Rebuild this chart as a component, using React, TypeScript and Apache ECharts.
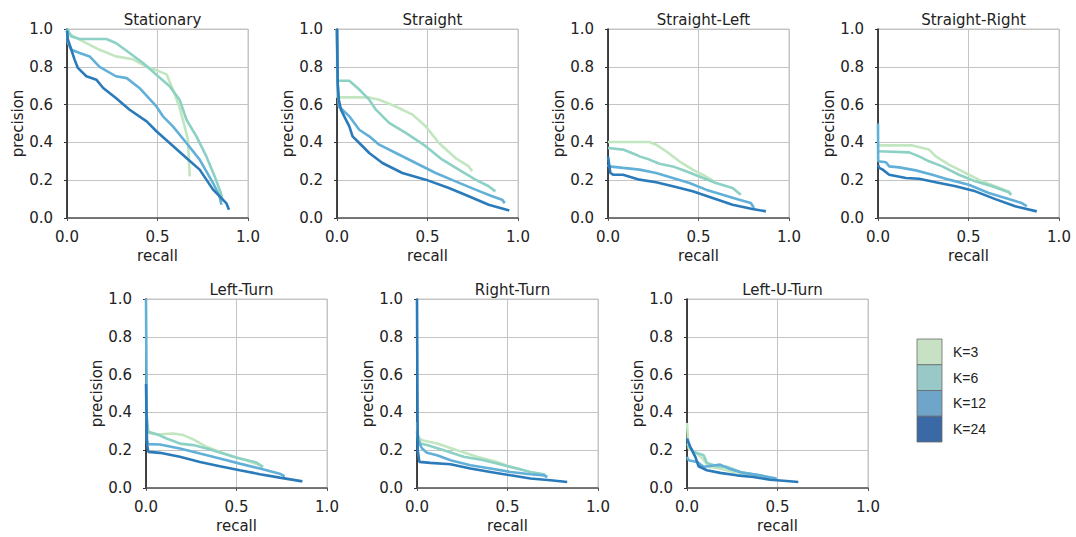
import React, { useEffect, useRef } from "react";
import * as echarts from "echarts";

// ---- Data: [recall, precision] pairs ----
const kLabels = ["K=3", "K=6", "K=12", "K=24"];
const panelTitles = ["Stationary", "Straight", "Straight-Left", "Straight-Right", "Left-Turn", "Right-Turn", "Left-U-Turn"];
const xTicks = [0, 0.5, 1];
const yTicks = [0, 0.2, 0.4, 0.6, 0.8, 1];

const stationaryK3 = [[0,1.0],[0.02,0.97],[0.088,0.935],[0.18,0.89],[0.27,0.855],[0.365,0.84],[0.44,0.80],[0.51,0.776],[0.55,0.76],[0.585,0.68],[0.62,0.59],[0.65,0.485],[0.668,0.414],[0.678,0.22]];
const stationaryK6 = [[0,1.0],[0.024,0.96],[0.07,0.947],[0.217,0.947],[0.27,0.926],[0.346,0.873],[0.42,0.82],[0.494,0.758],[0.567,0.697],[0.622,0.626],[0.66,0.52],[0.715,0.432],[0.77,0.326],[0.816,0.22],[0.853,0.123],[0.858,0.088]];
const stationaryK12 = [[0,1.0],[0.005,0.926],[0.024,0.89],[0.07,0.873],[0.125,0.855],[0.18,0.80],[0.27,0.75],[0.33,0.74],[0.40,0.688],[0.494,0.59],[0.53,0.538],[0.585,0.485],[0.66,0.397],[0.733,0.309],[0.807,0.185],[0.843,0.115],[0.853,0.07]];
const stationaryK24 = [[0,0.99],[0.005,0.944],[0.024,0.89],[0.042,0.838],[0.06,0.794],[0.107,0.75],[0.162,0.732],[0.2,0.688],[0.27,0.635],[0.346,0.573],[0.44,0.511],[0.494,0.459],[0.567,0.397],[0.66,0.317],[0.733,0.256],[0.807,0.15],[0.88,0.079],[0.895,0.044]];

const straightK3 = [[0,1.0],[0.002,0.638],[0.178,0.638],[0.233,0.626],[0.325,0.59],[0.417,0.547],[0.49,0.485],[0.563,0.397],[0.655,0.317],[0.728,0.273],[0.747,0.247]];
const straightK6 = [[0,1.0],[0.002,0.726],[0.068,0.726],[0.123,0.68],[0.178,0.626],[0.215,0.573],[0.288,0.503],[0.38,0.45],[0.49,0.38],[0.58,0.31],[0.673,0.256],[0.765,0.203],[0.838,0.168],[0.875,0.141]];
const straightK12 = [[0,1.0],[0.004,0.7],[0.01,0.59],[0.03,0.573],[0.068,0.538],[0.123,0.467],[0.178,0.432],[0.233,0.388],[0.325,0.344],[0.435,0.291],[0.545,0.238],[0.655,0.194],[0.765,0.15],[0.857,0.115],[0.912,0.097],[0.927,0.079]];
const straightK24 = [[0,1.0],[0.004,0.714],[0.01,0.626],[0.022,0.573],[0.04,0.538],[0.068,0.485],[0.086,0.432],[0.123,0.397],[0.178,0.344],[0.251,0.291],[0.361,0.238],[0.49,0.203],[0.618,0.159],[0.728,0.115],[0.838,0.07],[0.952,0.04]];

const straightLeftK3 = [[0,0.402],[0.229,0.402],[0.266,0.388],[0.321,0.353],[0.394,0.3],[0.468,0.256],[0.523,0.229],[0.587,0.194]];
const straightLeftK6 = [[0,0.37],[0.083,0.362],[0.156,0.335],[0.174,0.326],[0.229,0.309],[0.284,0.287],[0.358,0.273],[0.431,0.247],[0.505,0.22],[0.596,0.185],[0.688,0.159],[0.734,0.123]];
const straightLeftK12 = [[0,0.282],[0.005,0.273],[0.083,0.265],[0.174,0.256],[0.266,0.238],[0.358,0.212],[0.45,0.185],[0.541,0.15],[0.633,0.123],[0.725,0.097],[0.789,0.079],[0.807,0.053]];
const straightLeftK24 = [[0,0.326],[0.013,0.238],[0.028,0.229],[0.083,0.229],[0.174,0.203],[0.266,0.189],[0.358,0.168],[0.468,0.141],[0.578,0.106],[0.688,0.07],[0.798,0.048],[0.872,0.035]];

const straightRightK3 = [[0,0.384],[0.19,0.384],[0.282,0.362],[0.319,0.326],[0.392,0.282],[0.484,0.238],[0.575,0.194],[0.648,0.168],[0.722,0.141],[0.736,0.123]];
const straightRightK6 = [[0,0.353],[0.172,0.347],[0.227,0.326],[0.282,0.3],[0.355,0.273],[0.447,0.229],[0.538,0.194],[0.63,0.168],[0.722,0.136],[0.736,0.123]];
const straightRightK12 = [[0,0.5],[0.001,0.3],[0.044,0.295],[0.062,0.273],[0.117,0.268],[0.209,0.252],[0.3,0.229],[0.392,0.203],[0.502,0.176],[0.612,0.132],[0.722,0.1],[0.795,0.079],[0.822,0.062]];
const straightRightK24 = [[0,0.282],[0.007,0.265],[0.026,0.256],[0.062,0.229],[0.154,0.212],[0.227,0.208],[0.319,0.189],[0.429,0.168],[0.538,0.141],[0.648,0.1],[0.758,0.062],[0.877,0.035]];

const leftTurnK3 = [[0,0.448],[0.01,0.292],[0.059,0.283],[0.15,0.288],[0.206,0.28],[0.261,0.257],[0.335,0.218],[0.408,0.191],[0.482,0.165],[0.555,0.147],[0.629,0.12],[0.643,0.112]];
const leftTurnK6 = [[0,0.4],[0.013,0.297],[0.059,0.285],[0.114,0.262],[0.187,0.235],[0.261,0.227],[0.335,0.209],[0.426,0.182],[0.518,0.156],[0.61,0.135],[0.647,0.112]];
const leftTurnK12 = [[0,1.0],[0.005,0.253],[0.013,0.232],[0.077,0.23],[0.187,0.209],[0.298,0.182],[0.408,0.156],[0.518,0.129],[0.629,0.103],[0.739,0.076],[0.767,0.062]];
const leftTurnK24 = [[0,0.55],[0.005,0.235],[0.013,0.191],[0.077,0.186],[0.187,0.165],[0.298,0.138],[0.408,0.115],[0.518,0.094],[0.629,0.073],[0.739,0.055],[0.864,0.035]];

const rightTurnK3 = [[0,0.35],[0.005,0.27],[0.028,0.253],[0.111,0.235],[0.221,0.2],[0.332,0.165],[0.443,0.138],[0.517,0.112],[0.59,0.094]];
const rightTurnK6 = [[0,0.3],[0.018,0.235],[0.055,0.227],[0.148,0.2],[0.258,0.165],[0.369,0.147],[0.48,0.12],[0.553,0.103],[0.627,0.085],[0.701,0.073],[0.716,0.058]];
const rightTurnK12 = [[0,0.3],[0.005,0.253],[0.028,0.209],[0.055,0.186],[0.111,0.173],[0.185,0.147],[0.295,0.12],[0.406,0.103],[0.517,0.085],[0.627,0.073],[0.701,0.067],[0.72,0.058]];
const rightTurnK24 = [[0,1.0],[0.004,0.2],[0.013,0.138],[0.074,0.133],[0.185,0.126],[0.295,0.103],[0.406,0.085],[0.517,0.067],[0.627,0.05],[0.738,0.041],[0.83,0.032]];

const leftUTurnK3 = [[0,0.345],[0.009,0.209],[0.055,0.182],[0.092,0.15],[0.119,0.112],[0.183,0.103],[0.257,0.085],[0.33,0.076],[0.404,0.067],[0.477,0.05]];
const leftUTurnK6 = [[0,0.235],[0.037,0.191],[0.092,0.173],[0.11,0.133],[0.165,0.115],[0.22,0.112],[0.294,0.085],[0.367,0.073],[0.44,0.058],[0.495,0.044]];
const leftUTurnK12 = [[0,0.165],[0.009,0.147],[0.055,0.138],[0.092,0.112],[0.147,0.119],[0.183,0.124],[0.238,0.1],[0.312,0.08],[0.404,0.067],[0.495,0.05]];
const leftUTurnK24 = [[0,0.262],[0.018,0.218],[0.046,0.165],[0.064,0.115],[0.11,0.094],[0.183,0.08],[0.275,0.067],[0.367,0.058],[0.459,0.044],[0.55,0.037],[0.615,0.032]];

const panels = [
  [stationaryK3, stationaryK6, stationaryK12, stationaryK24],
  [straightK3, straightK6, straightK12, straightK24],
  [straightLeftK3, straightLeftK6, straightLeftK12, straightLeftK24],
  [straightRightK3, straightRightK6, straightRightK12, straightRightK24],
  [leftTurnK3, leftTurnK6, leftTurnK12, leftTurnK24],
  [rightTurnK3, rightTurnK6, rightTurnK12, rightTurnK24],
  [leftUTurnK3, leftUTurnK6, leftUTurnK12, leftUTurnK24],
];

// ---- Styles / layout ----
const lineColors = ["#c2e6c0", "#8dd1c5", "#62b0d8", "#2b7bba"];
const legendColors = ["#c7e1c5", "#99c9c7", "#6fa5c9", "#3a69a5"];
const gridBoxes = [
  { left: 67, top: 29 },
  { left: 337, top: 29 },
  { left: 608, top: 29 },
  { left: 878, top: 29 },
  { left: 146, top: 299 },
  { left: 417, top: 299 },
  { left: 687, top: 299 },
];
const GW = 181;
const GH = 189;
const FONT = "DejaVu Sans";
const FS = 15;
const TXT = "#222";

export default function App() {
  const ref = useRef<HTMLDivElement>(null);
  useEffect(() => {
    if (!ref.current) return;
    const chart = echarts.init(ref.current, null, { renderer: "svg" });
    const grid = gridBoxes.map((g) => ({
      left: g.left, top: g.top, width: GW, height: GH,
      show: true, borderColor: "#c4c4c4", borderWidth: 1, backgroundColor: "transparent",
    }));
    const xAxis = gridBoxes.map((_, i) => ({
      type: "value", gridIndex: i, min: xTicks[0], max: xTicks[xTicks.length - 1], interval: 0.5,
      name: "recall", nameLocation: "middle", nameGap: 30,
      nameTextStyle: { fontFamily: FONT, fontSize: FS, color: TXT },
      axisLine: { show: true, onZero: false, lineStyle: { color: "#555", width: 1.5 } },
      axisTick: { show: true, length: 3, lineStyle: { color: "#555" } },
      axisLabel: { margin: 11, fontFamily: FONT, fontSize: FS, color: TXT, formatter: (v: number) => v.toFixed(1) },
      splitLine: { show: true, lineStyle: { color: "#c4c4c4", width: 1 } },
    }));
    const yAxis = gridBoxes.map((_, i) => ({
      type: "value", gridIndex: i, min: yTicks[0], max: yTicks[yTicks.length - 1], interval: 0.2,
      name: "precision", nameLocation: "middle", nameGap: 41,
      nameTextStyle: { fontFamily: FONT, fontSize: FS, color: TXT },
      axisLine: { show: true, onZero: false, lineStyle: { color: "#111", width: 1.5 } },
      axisTick: { show: true, length: 3, lineStyle: { color: "#333" } },
      axisLabel: { margin: 14, fontFamily: FONT, fontSize: FS, color: TXT, formatter: (v: number) => v.toFixed(1) },
      splitLine: { show: true, lineStyle: { color: "#c4c4c4", width: 1 } },
    }));
    const series: any[] = [];
    panels.forEach((p, i) => {
      p.forEach((d, k) => {
        series.push({
          type: "line", name: kLabels[k], xAxisIndex: i, yAxisIndex: i, data: d,
          showSymbol: false, symbol: "none", z: 2 + k,
          lineStyle: { color: lineColors[k], width: 2.6 },
          clip: false,
        });
      });
    });
    const title = gridBoxes.map((g, i) => ({
      text: panelTitles[i], left: g.left + GW / 2, top: g.top - 22, textAlign: "center",
      textStyle: { fontFamily: FONT, fontSize: FS, fontWeight: "normal", color: TXT },
    }));
    const graphic: any[] = [];
    const lx = 917, ly = 339, lh = 25.75;
    kLabels.forEach((lab, k) => {
      graphic.push({
        type: "rect", shape: { x: lx, y: ly + k * lh, width: 25, height: lh },
        style: { fill: legendColors[k], stroke: "#6a6a6a", lineWidth: 0.8 },
      });
      graphic.push({
        type: "text", x: 953, y: ly + k * lh + lh / 2,
        style: { text: lab, fontFamily: "Liberation Sans", fontSize: 14, fill: TXT, verticalAlign: "middle" },
      });
    });
    chart.setOption({
      animation: false, backgroundColor: "#fff",
      title, grid, xAxis, yAxis, series, graphic,
    });
    return () => chart.dispose();
  }, []);
  return <div ref={ref} style={{ position: "fixed", left: 0, top: 0, width: 1076, height: 537 }} />;
}
